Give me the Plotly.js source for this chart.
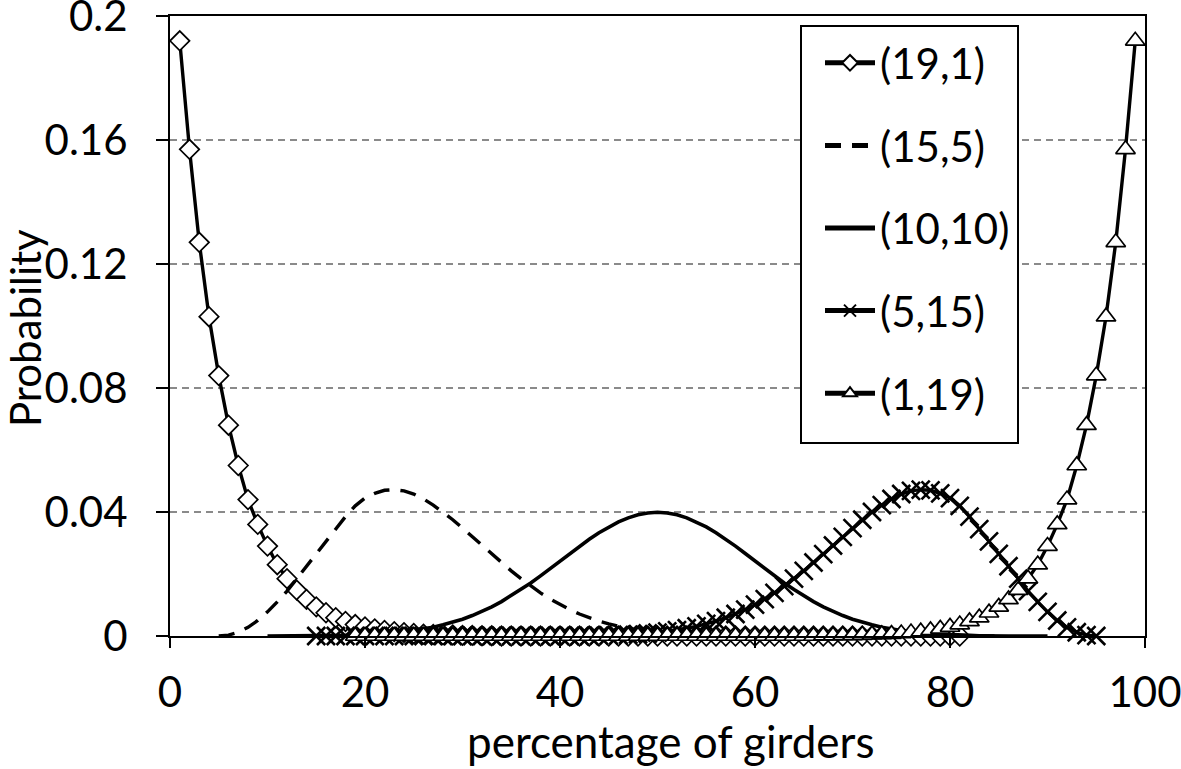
<!DOCTYPE html>
<html>
<head>
<meta charset="utf-8">
<script src="https://cdn.plot.ly/plotly-3.0.1.min.js"></script>
<style>html,body{margin:0;padding:0;background:#fff;}#chart{width:1181px;height:769px;}</style>
</head>
<body>
<div id="chart"></div>
<script>
// Series names
var seriesNames = ["(19,1)", "(15,5)", "(10,10)", "(5,15)", "(1,19)"];
// First x value (percentage of girders) of each series; one point per integer step
var xStart = [1, 5, 10, 15, 19];

var y19_1 = [0.192,0.157,0.127,0.103,0.084,0.068,0.055,0.044,0.036,0.029,0.023,0.0185,0.0148,0.0118,0.0094,0.0075,0.0059,0.0047,0.0037,0.0029,0.0023,0.0018,0.0014,0.0011,0.0008,0.0006,0.0005,0.0004,0.0003,0.0002,0.0002,0.0001,0.0001,
  0,0,0,0,0,0,0,0,0,0,0,0, 0,0,0,0,0,0,0,0,0,0,0,0, 0,0,0,0,0,0,0,0,0,0,0,0, 0,0,0,0,0,0,0,0,0,0,0,0];

var y15_5 = [0,0.0003,0.0012,0.0028,0.005,0.0078,0.011,0.0145,0.0185,0.0225,0.0265,0.0305,0.0345,0.0385,0.042,0.0445,0.046,0.047,0.0472,0.0468,0.0458,0.0442,0.0422,0.04,0.0375,0.0348,0.032,0.0292,0.0264,0.0237,0.021,0.0185,0.0161,0.0139,0.0119,0.0101,0.0085,0.0071,0.0059,0.0048,0.0039,0.0031,0.0025,0.0019,0.0015,0.0011,0.0008,0.0006,0.0004,0.0003,0.0002,0.0001,
  0,0,0,0,0,0,0,0,0,0, 0,0,0,0,0,0,0,0,0,0, 0,0,0,0,0,0,0,0,0];

var y10_10 = [0,0,0,0,0,0,0,0.0001,0.0002,0.0003,0.0004,0.0006,0.0008,0.001,0.0014,0.0018,0.0022,0.0028,0.0036,0.0044,0.0054,0.0066,0.0079,0.0094,0.0111,0.013,0.015,0.0171,0.0194,0.0218,0.0242,0.0266,0.029,0.0312,0.0333,0.0352,0.0368,0.0381,0.0391,0.0397,
  0.0399,
  0.0397,0.0391,0.0381,0.0368,0.0352,0.0333,0.0312,0.029,0.0266,0.0242,0.0218,0.0194,0.0171,0.015,0.013,0.0111,0.0094,0.0079,0.0066,0.0054,0.0044,0.0036,0.0028,0.0022,0.0018,0.0014,0.001,0.0008,0.0006,0.0004,0.0003,0.0002,0.0001,0,0,0,0,0,0,0];

var y5_15 = [0,0,0,0,0,0,0,0,0,0, 0,0,0,0,0,0,0,0,0,0, 0,0,0,0,0,0,0,0,0,
  0.0001,0.0002,0.0003,0.0004,0.0006,0.0008,0.0011,0.0015,0.0019,0.0025,0.0031,0.0039,0.0048,0.0059,0.0071,0.0085,0.0101,0.0119,0.0139,0.0161,0.0185,0.021,0.0237,0.0264,0.0292,0.032,0.0348,0.0375,0.04,0.0422,0.0442,0.0458,0.0468,0.0472,0.047,0.046,0.0445,0.042,0.0385,0.0345,0.0305,0.0265,0.0225,0.0185,0.0145,0.011,0.0078,0.005,0.0028,0.0012,0.0003,0];

var y1_19 = [0,0,0,0,0,0,0,0,0,0,0,0, 0,0,0,0,0,0,0,0,0,0,0,0, 0,0,0,0,0,0,0,0,0,0,0,0, 0,0,0,0,0,0,0,0,0,0,0,0,
  0.0001,0.0001,0.0002,0.0002,0.0003,0.0004,0.0005,0.0006,0.0008,0.0011,0.0014,0.0018,0.0023,0.0029,0.0037,0.0047,0.0059,0.0075,0.0094,0.0118,0.0148,0.0185,0.023,0.029,0.036,0.044,0.055,0.068,0.084,0.103,0.127,0.157,0.192];

var yTickVals = [0, 0.04, 0.08, 0.12, 0.16, 0.2];
var yTickText = ['0', '0.04', '0.08', '0.12', '0.16', '0.2'];
var xTickVals = [0, 20, 40, 60, 80, 100];
var xTitle = 'percentage of girders';
var yTitle = 'Probability';

var seriesY = [y19_1, y15_5, y10_10, y5_15, y1_19];
function xsFor(i) { return seriesY[i].map(function (_, k) { return xStart[i] + k; }); }

var FONT = "Lato, 'Open Sans', sans-serif";
var styles = [
  {mode: 'lines+markers', line: {color: '#000', width: 3.4}, marker: {symbol: 'diamond', size: 15, color: '#fff', line: {width: 1.7, color: '#000'}}},
  {mode: 'lines', line: {color: '#000', width: 3.4, dash: '16px,11px'}},
  {mode: 'lines', line: {color: '#000', width: 3.6}},
  {mode: 'lines+markers', line: {color: '#000', width: 3.4}, marker: {symbol: 'x-thin-open', size: 18, color: '#000', line: {width: 2.6, color: '#000'}}},
  {mode: 'lines+markers', line: {color: '#000', width: 3.4}, marker: {symbol: 'triangle-up', size: 17, color: '#fff', line: {width: 1.7, color: '#000'}}}
];

var traces = seriesY.map(function (ys, i) {
  var t = {type: 'scatter', x: xsFor(i), y: ys, name: seriesNames[i], legendgroup: 'g' + i, hoverinfo: 'skip', cliponaxis: false};
  for (var k in styles[i]) t[k] = styles[i][k];
  return t;
});

// plot area in px: left 170, right 1145, top 16, bottom 636
function px2x(p) { return (p - 170) / 975; }
function px2y(p) { return (636 - p) / 620; }

var layout = {
  width: 1181, height: 769,
  margin: {l: 170, r: 36, t: 16, b: 133, pad: 0},
  paper_bgcolor: '#fff', plot_bgcolor: '#fff',
  font: {family: FONT, size: 42, color: '#000'},
  showlegend: true,
  shapes: [{
    type: 'rect', xref: 'paper', yref: 'paper', layer: 'above',
    x0: px2x(801), x1: px2x(1018), y0: px2y(443), y1: px2y(26),
    line: {color: '#000', width: 2}, fillcolor: '#fff'
  }],
  annotations: [{
    text: yTitle, xref: 'paper', yref: 'paper', x: px2x(25), y: px2y(328),
    xanchor: 'center', yanchor: 'middle', textangle: -90, showarrow: false, borderpad: 0,
    font: {family: FONT, size: 42, color: '#000'}
  }, {
    text: xTitle, xref: 'paper', yref: 'paper', x: px2x(671), y: px2y(741),
    xanchor: 'center', yanchor: 'middle', showarrow: false, borderpad: 0,
    font: {family: FONT, size: 44, color: '#000'}
  }],
  legend: {
    x: px2x(820), y: px2y(29), xanchor: 'left', yanchor: 'top',
    bgcolor: 'rgba(0,0,0,0)', borderwidth: 0,
    font: {family: FONT, size: 42, color: '#000'},
    tracegroupgap: 25, itemwidth: 50, itemsizing: 'constant'
  },
  xaxis: {
    range: [0, 100], tickvals: xTickVals, ticktext: xTickVals.map(String),
    ticks: 'outside', ticklen: 10, tickwidth: 2, tickcolor: '#000',
    showline: true, linewidth: 2, linecolor: '#000', mirror: true,
    showgrid: false, zeroline: false, ticklabelstandoff: 9, ticklabeloverflow: 'allow',
    tickfont: {family: FONT, size: 42, color: '#000'},
    automargin: false
  },
  yaxis: {
    range: [0, 0.2], tickvals: yTickVals, ticktext: yTickText,
    ticks: 'outside', ticklen: 12, tickwidth: 2, tickcolor: '#000',
    showline: true, linewidth: 2, linecolor: '#000', mirror: true,
    showgrid: true, gridcolor: '#8a8a8a', gridwidth: 1.5, griddash: '7px,5px',
    zeroline: false, ticklabelstandoff: 20, ticklabeloverflow: 'allow',
    tickfont: {family: FONT, size: 42, color: '#000'},
    automargin: false
  }
};

Plotly.newPlot('chart', traces, layout, {staticPlot: true, displayModeBar: false});
</script>
</body>
</html>
